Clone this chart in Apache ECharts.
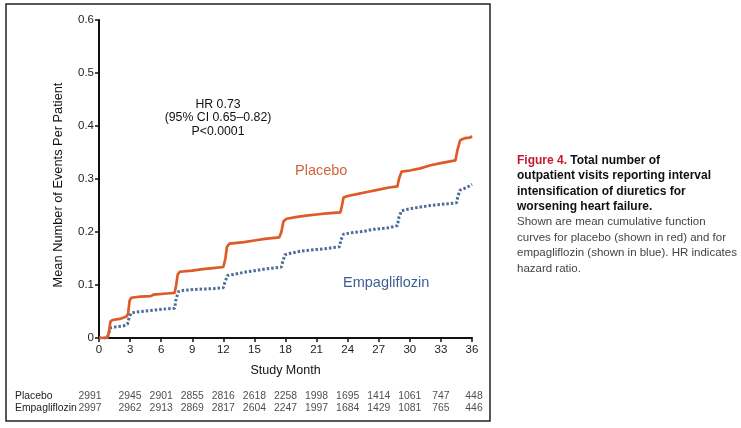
<!DOCTYPE html>
<html>
<head>
<meta charset="utf-8">
<script src="https://cdn.jsdelivr.net/npm/echarts@6/dist/echarts.min.js"></script>
<style>html,body{margin:0;padding:0;background:#fff;}#c{width:741px;height:428px;}</style>
</head>
<body>
<div id="c"></div>
<script>
// Mean cumulative events per patient [month, value]
const placebo = [
  [0,0],[0.8,0],[0.95,0.01],[1.1,0.031],[1.3,0.034],[2.0,0.036],[2.6,0.04],[2.8,0.045],[2.95,0.07],[3.1,0.076],[4,0.078],[5,0.079],[5.3,0.082],[6.5,0.084],[7.3,0.085],[7.45,0.1],[7.6,0.12],[7.8,0.125],[9,0.127],[10,0.13],[11,0.132],[12.0,0.134],[12.2,0.15],[12.35,0.172],[12.6,0.178],[14,0.181],[15,0.184],[16,0.187],[17.4,0.19],[17.6,0.2],[17.8,0.22],[18.1,0.225],[19,0.228],[20,0.231],[21,0.233],[22,0.235],[23.3,0.237],[23.45,0.25],[23.6,0.265],[24,0.268],[25,0.272],[26,0.276],[27,0.28],[28,0.284],[28.8,0.286],[28.95,0.3],[29.2,0.314],[30,0.316],[31,0.32],[32,0.326],[33,0.33],[34.4,0.335],[34.6,0.355],[34.85,0.373],[35.3,0.377],[35.8,0.378],[36,0.381]
];
const empagliflozin = [
  [0,0],[0.8,0],[0.95,0.01],[1.1,0.019],[1.6,0.021],[2.4,0.023],[2.75,0.026],[2.9,0.038],[3.1,0.047],[3.6,0.049],[4.5,0.051],[5.5,0.053],[6.5,0.055],[7.3,0.056],[7.45,0.075],[7.7,0.088],[8.2,0.09],[9.5,0.092],[11,0.093],[12.0,0.095],[12.15,0.105],[12.4,0.118],[13,0.12],[14,0.124],[15,0.127],[16,0.13],[17.6,0.134],[17.75,0.145],[17.95,0.157],[18.5,0.16],[19.5,0.164],[21,0.167],[22,0.169],[23.2,0.172],[23.35,0.185],[23.6,0.196],[24.5,0.199],[25.5,0.201],[26.5,0.205],[28,0.208],[28.8,0.212],[28.95,0.228],[29.2,0.24],[30,0.244],[31,0.247],[32,0.25],[33,0.252],[34.5,0.255],[34.65,0.268],[34.85,0.279],[35.5,0.284],[36,0.29]
];
const xTicks = [0,3,6,9,12,15,18,21,24,27,30,33,36];
const riskMonths = [0,3,6,9,12,15,18,21,24,27,30,33,36];
const riskPlacebo = [2991,2945,2901,2855,2816,2618,2258,1998,1695,1414,1061,747,448];
const riskEmpa = [2997,2962,2913,2869,2817,2604,2247,1997,1684,1429,1081,765,446];
const riskRows = ['Empagliflozin','Placebo'];

const font = 'Liberation Sans, Arial, Helvetica, sans-serif';
const chart = echarts.init(document.getElementById('c'), null, {renderer:'canvas'});

function offs(i,n){ return i===0?[-9,0]:(i===n-1?[2,0]:[0,0]); }
const rp = riskPlacebo.map((v,i)=>({value:[riskMonths[i],'Placebo'],lab:v,label:{offset:offs(i,riskPlacebo.length)}}));
const re = riskEmpa.map((v,i)=>({value:[riskMonths[i],'Empagliflozin'],lab:v,label:{offset:offs(i,riskEmpa.length)}}));

chart.setOption({
  animation:false,
  backgroundColor:'#fff',
  grid:[
    {left:99, right:269, top:20, bottom:90},
    {left:99, right:269, top:390, height:24}
  ],
  xAxis:[
    {type:'value', gridIndex:0, min:0, max:36, interval:3,
     name:'Study Month', nameLocation:'middle', nameGap:26,
     nameTextStyle:{fontFamily:font, fontSize:12.5, color:'#111'},
     axisLine:{lineStyle:{color:'#111', width:2}},
     axisTick:{show:true, length:4, lineStyle:{color:'#111', width:1.5}},
     axisLabel:{fontFamily:font, fontSize:11.5, color:'#222', margin:6},
     splitLine:{show:false}},
    {type:'value', gridIndex:1, min:0, max:36, show:false}
  ],
  yAxis:[
    {type:'value', gridIndex:0, min:0, max:0.6, interval:0.1,
     axisLine:{show:true, lineStyle:{color:'#111', width:2}},
     axisTick:{show:true, length:4, lineStyle:{color:'#111', width:1.5}},
     axisLabel:{fontFamily:font, fontSize:11.5, color:'#222', margin:5,
       formatter:v=> v===0?'0':v.toFixed(1)},
     splitLine:{show:false}},
    {type:'category', gridIndex:1, data:riskRows, show:false}
  ],
  series:[
    {type:'line', name:'Placebo', xAxisIndex:0, yAxisIndex:0, data:placebo,
     showSymbol:false, symbol:'none', lineStyle:{color:'#DD5B27', width:2.7}, z:3},
    {type:'line', name:'Empagliflozin', xAxisIndex:0, yAxisIndex:0, data:empagliflozin,
     showSymbol:false, symbol:'none', lineStyle:{color:'#4D6E98', width:3, type:[2.5,2]}, z:2},
    {type:'scatter', xAxisIndex:1, yAxisIndex:1, symbolSize:0, data:rp.concat(re),
     label:{show:true, position:'inside', fontFamily:font, fontSize:10.4, color:'#222',
       formatter:p=>String(p.data.lab)}}
  ],
  graphic:[
    {type:'rect', shape:{x:6, y:4, width:484, height:417}, style:{fill:'none', stroke:'#222', lineWidth:1.5}, silent:true},
    {type:'text', x:15, y:390, style:{text:'Placebo\nEmpagliflozin', font:'10.4px '+font, fill:'#222', lineHeight:12}},
    {type:'text', x:218, y:98, style:{text:'HR 0.73\n(95% CI 0.65\u20130.82)\nP<0.0001', font:'12.3px '+font, fill:'#111', textAlign:'center', lineHeight:13.3}},
    {type:'text', x:58, y:185, rotation:Math.PI/2, style:{text:'Mean Number of Events Per Patient', font:'12.8px '+font, fill:'#111', textAlign:'center', textVerticalAlign:'middle'}},
    {type:'text', x:295, y:163, style:{text:'Placebo', font:'14.5px '+font, fill:'#D2643A'}},
    {type:'text', x:343, y:275, style:{text:'Empagliflozin', font:'14.5px '+font, fill:'#3F5F93'}},
    {type:'text', x:517, y:153, style:{
      text:'{r|Figure 4.} {b|Total number of}\n{b|outpatient visits reporting interval}\n{b|intensification of diuretics for}\n{b|worsening heart failure.}\n{n|Shown are mean cumulative function}\n{n|curves for placebo (shown in red) and for}\n{n|empagliflozin (shown in blue). HR indicates}\n{n|hazard ratio.}',
      rich:{
        r:{fontFamily:font, fontWeight:'bold', fontSize:12, fill:'#C4182F', lineHeight:15.4},
        b:{fontFamily:font, fontWeight:'bold', fontSize:12, fill:'#111', lineHeight:15.4},
        n:{fontFamily:font, fontSize:11.5, fill:'#444', lineHeight:15.4}
      }}}
  ]
});
</script>
</body>
</html>
